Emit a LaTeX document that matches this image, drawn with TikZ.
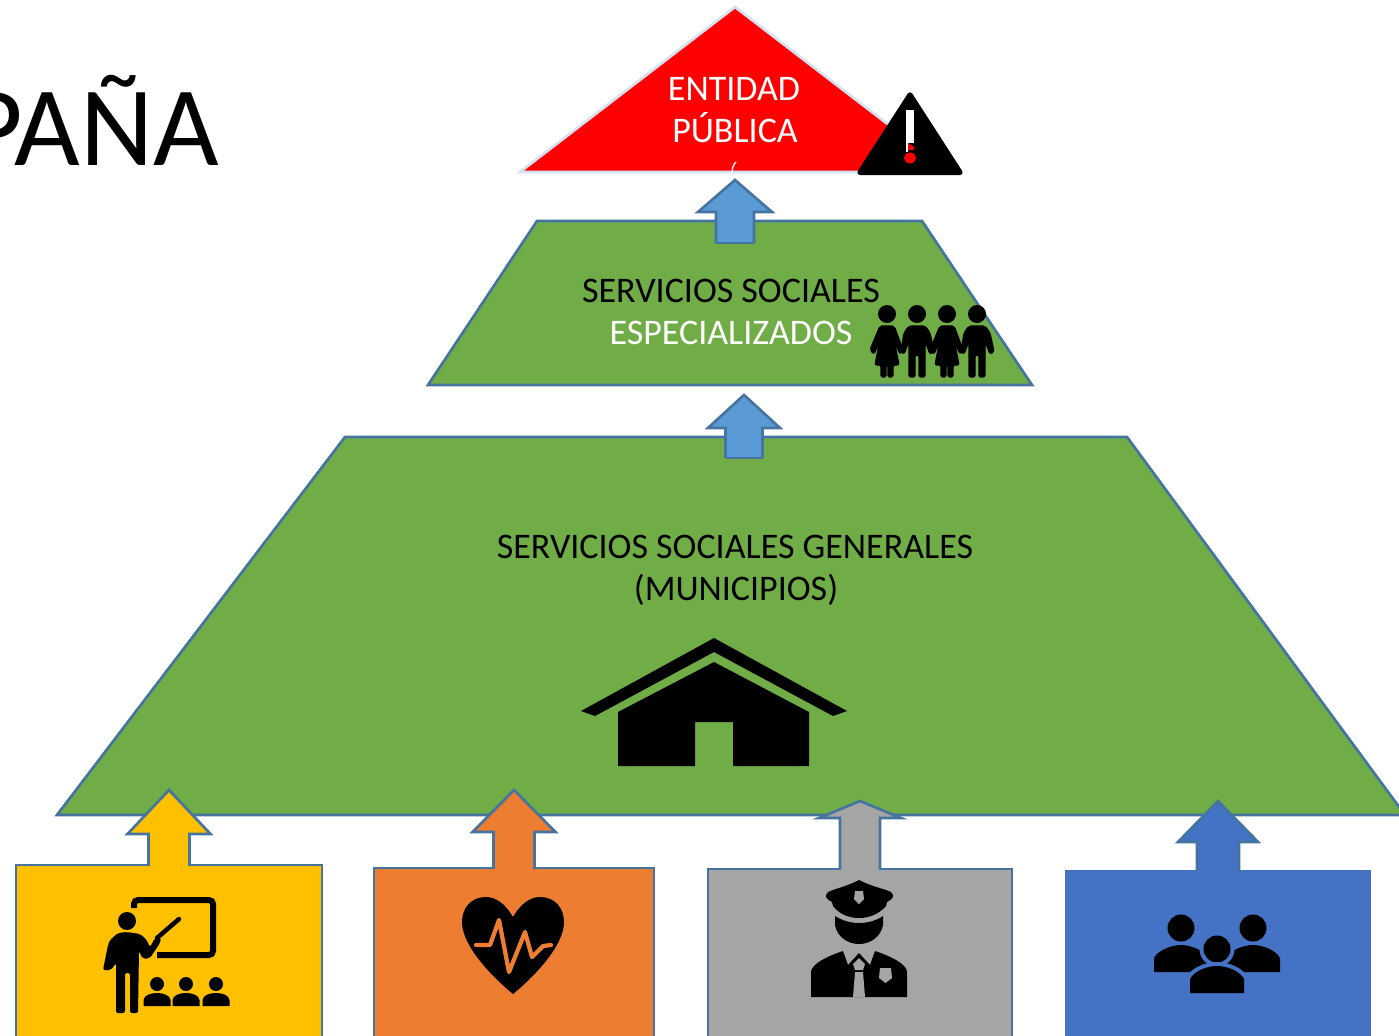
\documentclass[tikz,border=0pt]{standalone}
\usepackage{fontspec}
\setmainfont{Carlito}
\definecolor{edgeblue}{HTML}{44749F}
\definecolor{paleedge}{HTML}{D5E0F0}
\definecolor{gold}{HTML}{FFC000}
\definecolor{orangeb}{HTML}{ED7D31}
\definecolor{greyb}{HTML}{A5A5A5}
\definecolor{blueb}{HTML}{4472C4}
\definecolor{greenb}{HTML}{70AD47}
\definecolor{skyb}{HTML}{5B9BD5}
\newcommand{\uparrowshape}[7]{%
  \fill[#7] (#1,#2) -- (#1+#3,#4) -- (#1+#5,#4) -- (#1+#5,#6) -- (#1-#5,#6) -- (#1-#5,#4) -- (#1-#3,#4) -- cycle;
  \draw[edgeblue,line width=2pt,line join=miter] (#1-#5,#6) -- (#1-#5,#4) -- (#1-#3,#4) -- (#1,#2) -- (#1+#3,#4) -- (#1+#5,#4) -- (#1+#5,#6);}
\newcommand{\femalefig}[1]{%
  \begin{scope}[shift={(#1,0)}]
  \fill[black] (0,314) circle (9);
  \filldraw[black,line width=1pt,line join=round,rounded corners=1.5pt] (-7,326) -- (7,326) -- (16,350) -- (13,354) -- (7,340) -- (12,365) -- (6,365) -- (6,377) -- (1,377) -- (1,365) -- (-1,365) -- (-1,377) -- (-6,377) -- (-6,365) -- (-12,365) -- (-7,340) -- (-13,354) -- (-17,350) -- cycle;
  \end{scope}}
\newcommand{\malefig}[1]{%
  \begin{scope}[shift={(#1,0)}]
  \fill[black] (0,314) circle (9);
  \filldraw[black,line width=1pt,line join=round,rounded corners=1.5pt] (-8,326) -- (8,326) -- (13,333) -- (17,352) -- (13,354) -- (8,341) -- (8,377) -- (2,377) -- (2,355) -- (-2,355) -- (-2,377) -- (-8,377) -- (-8,341) -- (-13,354) -- (-16,352) -- (-13,333) -- cycle;
  \end{scope}}
\newcommand{\studentfig}[1]{%
  \begin{scope}[shift={(#1,0)}]
  \fill[black] (0,984) circle (7);
  \fill[black] (-13.5,1006) -- (-13.5,1000) .. controls (-13,995) and (-6,993) .. (0,993) .. controls (6,993) and (13,995) .. (13.5,1000) -- (13.5,1006) -- cycle;
  \end{scope}}
\tikzset{
  lbl/.style={font=\fontsize{27}{27}\selectfont,inner sep=0pt,anchor=base},
  boxshape/.style={draw=edgeblue,line width=2pt},
  icon/.style={fill=black}
}
\begin{document}
\begin{tikzpicture}[x=0.75pt,y=-0.75pt]
\useasboundingbox (0,0) rectangle (1399,1035);
\clip (0,0) rectangle (1399,1035);
\fill[white] (0,0) rectangle (1399,1035);

% title
\node (title) at (219,165) [anchor=base east,inner sep=0pt,font=\fontsize{85}{85}\selectfont] {PAÑA};

% top triangle
\draw[paleedge,line width=2pt,fill=red] (735,7) -- (950,172) -- (520,172) -- cycle;
\node (ent1) at (734,100) [lbl,text=white] {ENTIDAD};
\node (ent2) at (735,142) [lbl,text=white] {PÚBLICA};
\draw[white,line width=1pt] (736,162) .. controls (733,165) and (732,169) .. (732,173);

% warning
\filldraw[black,line width=4pt,line join=round] (910,95) -- (960,172.5) -- (860,172.5) -- cycle;
\fill[white] (906,110) rectangle (914,143);
\fill[white] (906,143) rectangle (908,152);
\fill[red] (908,143) -- (914,147) -- (914,150) -- (908,150) -- cycle;
\fill[red] (910,158) ellipse (6 and 5.5);

% pyramid levels
\draw[boxshape,fill=greenb] (537,221) -- (922,221) -- (1032,385) -- (428,385) -- cycle;
\draw[boxshape,fill=greenb] (345,437) -- (1127,437) -- (1405,815) -- (57,815) -- cycle;

\uparrowshape{735}{180}{37}{212}{19}{243}{skyb}
\draw[edgeblue,line width=2pt] (716,243) -- (754,243);
\uparrowshape{744}{395}{36}{428}{18.5}{458}{skyb}
\draw[edgeblue,line width=2pt] (725.5,458) -- (762.5,458);

\node (ss1) at (731,302) [lbl,text=black] {SERVICIOS SOCIALES};
\node (ss2) at (731,344) [lbl,text=white] {ESPECIALIZADOS};
\node (gen1) at (735,558) [lbl,text=black] {SERVICIOS SOCIALES GENERALES};
\node (gen2) at (736,600) [lbl,text=black] {(MUNICIPIOS)};

% family
\femalefig{887}\malefig{917}\femalefig{947}\malefig{977}

% house
\fill[icon] (714,638) -- (847,711) -- (833,716) -- (714,652) -- (595,716) -- (581,711) -- cycle;
\fill[icon] (714,662) -- (809,712) -- (809,766) -- (733,766) -- (733,722) -- (695,722) -- (695,766) -- (618,766) -- (618,712) -- cycle;

% bottom boxes
\draw[boxshape,fill=gold] (16,865) rectangle (322,1045);
\draw[boxshape,fill=orangeb] (374,868) rectangle (654,1045);
\draw[boxshape,fill=greyb] (708,869) rectangle (1012,1045);
\draw[boxshape,draw=blueb!80!edgeblue,fill=blueb] (1066,871) rectangle (1370,1045);

\uparrowshape{169}{790}{41.5}{834}{20.5}{866}{gold}
\uparrowshape{514}{790}{41.5}{832}{20.5}{869}{orangeb}
\uparrowshape{860}{801}{41}{818}{20}{870}{greyb}
\uparrowshape{1218}{801}{40}{842}{21}{872}{blueb}

% teacher
\draw[black,line width=4.5pt,rounded corners=3pt] (134,908) -- (134,900) -- (213,900) -- (213,955) -- (157,955);
\draw[black,line width=3.4pt,line cap=round] (157,938) -- (179,919);
\fill[icon] (127,921) circle (9);
\fill[icon,rounded corners=1.5pt] (110,940) -- (118,933) -- (127,932) -- (140,934) -- (146,939) -- (150,947) -- (155,938) -- (161,938) -- (160,943) -- (150,958) -- (143,959) -- (139,951) -- (138,1013) -- (130,1013) -- (130,973) -- (125,973) -- (125,1013) -- (116,1013) -- (116,963) -- (111,970) -- (103,970) -- (108,945) -- cycle;
\studentfig{157}\studentfig{186}\studentfig{216}

% heart
\fill[icon] (513,917) .. controls (505,903) and (495,897) .. (486,897) .. controls (471,897) and (462,908) .. (462,922) .. controls (462,945) and (490,975) .. (513,994) .. controls (536,975) and (564,945) .. (564,922) .. controls (564,908) and (555,897) .. (540,897) .. controls (531,897) and (521,903) .. (513,917) -- cycle;
\draw[orangeb,line width=3.2pt,line join=round,line cap=round] (476,945) -- (490,945) -- (499,920) -- (509,972) -- (525,932) -- (532,957) -- (543,946) -- (551,945);

% police officer
\fill[icon] (859,880) .. controls (870,886) and (885,889) .. (891,892) .. controls (895,896) and (893,899) .. (887,902) -- (886,906) .. controls (878,915) and (868,918) .. (859,918) .. controls (850,918) and (840,915) .. (833,906) -- (832,902) .. controls (826,899) and (824,896) .. (828,892) .. controls (834,889) and (848,886) .. (859,880) -- cycle;
\fill[greyb] (855,891) -- (863,891) -- (864,899) -- (859,904) -- (854,899) -- cycle;
\fill[icon] (835,916) .. controls (843,921) and (851,923) .. (859,923) .. controls (867,923) and (876,921) .. (883,916) -- (883,925) .. controls (881,937) and (870,944) .. (859,944) .. controls (848,944) and (837,937) .. (835,925) -- cycle;
\fill[icon] (811,997) -- (811,972) .. controls (811,964) and (828,956) .. (843,951) -- (848,965) -- (859,953) -- (870,965) -- (875,951) .. controls (890,956) and (907,964) .. (907,972) -- (907,997) -- cycle;
\fill[greyb] (859,958) -- (865,964) -- (863,970) -- (855,970) -- (853,964) -- cycle;
\fill[greyb] (855,972) -- (863,972) -- (865,997) -- (853,997) -- cycle;
\fill[greyb] (880,968) -- (891,968) -- (892,978) -- (885.5,983) -- (879,978) -- cycle;

% group
\fill[icon] (1181,928) circle (13.5);
\fill[icon] (1253,928) circle (13.5);
\fill[icon] (1154,972) -- (1154,958) .. controls (1158,950) and (1172,945) .. (1181,945) .. controls (1190,945) and (1204,950) .. (1208,958) -- (1208,972) -- cycle;
\fill[icon] (1226,972) -- (1226,958) .. controls (1230,950) and (1244,945) .. (1253,945) .. controls (1262,945) and (1276,950) .. (1280,958) -- (1280,972) -- cycle;
\fill[blueb] (1217,949) circle (17.5);
\fill[black] (1217,949) circle (13.5);
\draw[blueb,line width=6pt,line join=round] (1190,993) -- (1190,979) .. controls (1194,971) and (1207,966) .. (1217,966) .. controls (1227,966) and (1240,971) .. (1244,979) -- (1244,993);
\fill[black] (1190,993) -- (1190,979) .. controls (1194,971) and (1207,966) .. (1217,966) .. controls (1227,966) and (1240,971) .. (1244,979) -- (1244,993) -- cycle;
\end{tikzpicture}
\end{document}
